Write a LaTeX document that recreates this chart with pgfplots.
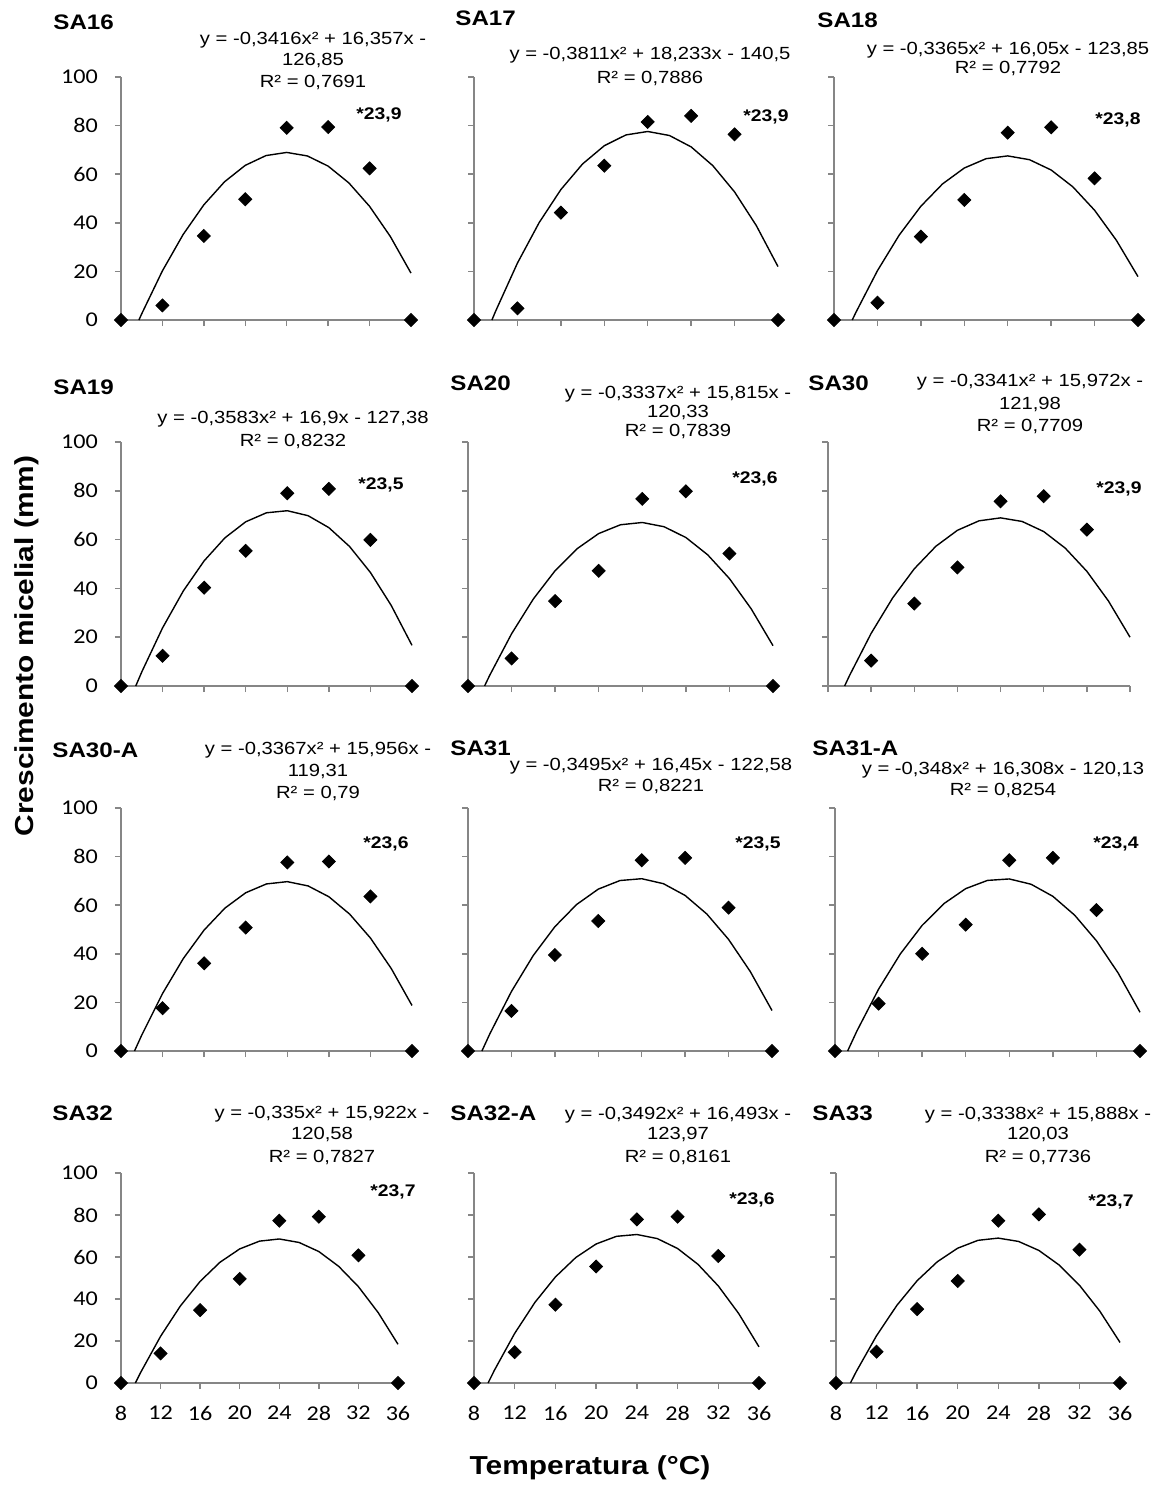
\documentclass[border=0pt]{standalone}
\usepackage{pgfplots}
\pgfplotsset{compat=1.18}
\usepackage{fontspec}
\setmainfont{Liberation Sans}[FakeStretch=1.15]
\newfontfamily\carlito{Carlito}[FakeStretch=1.15]
\definecolor{axgray}{RGB}{134,134,134}
\newcommand{\eqfont}{\fontsize{8.8}{10}\selectfont}
\newcommand{\titlefont}{\fontsize{10.5}{12}\selectfont\bfseries}
\newcommand{\optfont}{\fontsize{8.4}{10}\selectfont\bfseries}
\newcommand{\ttl}[3]{\node[anchor=base west,inner sep=0pt,font=\titlefont] at ({#1*0.5pt},{-(#2+7.5)*0.5pt}) {#3};}
\newcommand{\eq}[3]{\node[anchor=base,inner sep=0pt,font=\eqfont] at ({#1*0.5pt},{-(#2+6.3)*0.5pt}) {#3};}
\newcommand{\opt}[3]{\node[anchor=base west,inner sep=0pt,font=\optfont] at ({#1*0.5pt},{-(#2+6)*0.5pt}) {#3};}
\pgfplotsset{
  panel/.style={
    scale only axis, anchor=south west,
    xmin=8, xmax=36, ymin=0, ymax=100,
    axis x line=bottom, axis y line=left,
    axis line style={-, draw=axgray, line width=0.75pt},
    xtick={8,12,16,20,24,28,32,36}, ytick={0,20,40,60,80,100},
    tick align=outside, major tick length=3pt,
    tick style={draw=axgray, line width=0.75pt},
    xticklabels={{},{},{},{},{},{},{},{}},
    yticklabels={{},{},{},{},{},{}},
    clip=false,
    ticklabel style={font=\carlito\fontsize{10.5}{12}\selectfont},
  },
  ylab/.style={yticklabels={0,20,40,60,80,100}, yticklabel style={xshift=-5pt}},
  xlab/.style={xticklabels={8,12,16,20,24,28,32,36}, xticklabel style={yshift=-5pt}},
  trend/.style={black, line width=0.7pt, no markers, line join=round},
  pts/.style={only marks, mark=square*, mark size=2.3pt, mark options={rotate=45, fill=black, draw=black}},
}
\begin{document}
\begin{tikzpicture}
\path[use as bounding box] (0pt,0pt) rectangle (584pt,-747.5pt);
% ---------------- Row 1
\begin{axis}[panel,ylab,at={(60.5pt,-160pt)},width=145pt,height=121.5pt]
\addplot[trend] coordinates {(9.73,0)(10,2.56)(12,20.24)(14,35.19)(16,47.41)(18,56.90)(20,63.65)(22,67.67)(24,68.96)(26,67.51)(28,63.33)(30,56.42)(32,46.78)(34,34.40)(36,19.29)};
\addplot[pts] coordinates {(8,0)(12,6.0)(16,34.6)(20,49.7)(24,79.1)(28,79.4)(32,62.4)(36,0)};
\end{axis}
\begin{axis}[panel,at={(237pt,-160pt)},width=152pt,height=121.5pt]
\addplot[trend] coordinates {(9.65,0)(10,3.72)(12,23.42)(14,40.07)(16,53.67)(18,64.22)(20,71.72)(22,76.17)(24,77.58)(26,75.93)(28,71.24)(30,63.50)(32,52.71)(34,38.87)(36,21.98)};
\addplot[pts] coordinates {(8,0)(12,4.8)(16,44.2)(20,63.5)(24,81.5)(28,84.0)(32,76.4)(36,0)};
\end{axis}
\begin{axis}[panel,at={(417pt,-160pt)},width=152pt,height=121.5pt]
\addplot[trend] coordinates {(9.68,0)(10,3.00)(12,20.29)(14,34.90)(16,46.81)(18,56.02)(20,62.55)(22,66.38)(24,67.53)(26,65.98)(28,61.73)(30,54.80)(32,45.17)(34,32.86)(36,17.85)};
\addplot[pts] coordinates {(8,0)(12,7.1)(16,34.3)(20,49.4)(24,77.1)(28,79.3)(32,58.3)(36,0)};
\end{axis}
% ---------------- Row 2
\begin{axis}[panel,ylab,at={(60.5pt,-343pt)},width=145.5pt,height=122pt]
\addplot[trend] coordinates {(9.42,0)(10,5.79)(12,23.83)(14,38.99)(16,51.30)(18,60.73)(20,67.30)(22,71.00)(24,71.84)(26,69.81)(28,64.91)(30,57.15)(32,46.52)(34,33.03)(36,16.66)};
\addplot[pts] coordinates {(8,0)(12,12.4)(16,40.3)(20,55.4)(24,79.0)(28,80.8)(32,59.9)(36,0)};
\end{axis}
\begin{axis}[panel,at={(234pt,-343pt)},width=152.5pt,height=122pt]
\addplot[trend] coordinates {(9.52,0)(10,4.45)(12,21.40)(14,35.68)(16,47.28)(18,56.22)(20,62.49)(22,66.09)(24,67.02)(26,65.28)(28,60.87)(30,53.79)(32,44.04)(34,31.62)(36,16.54)};
\addplot[pts] coordinates {(8,0)(12,11.3)(16,34.8)(20,47.2)(24,76.7)(28,79.8)(32,54.3)(36,0)};
\end{axis}
\begin{axis}[panel,at={(414pt,-343pt)},width=151pt,height=122pt]
\addplot[trend] coordinates {(9.54,0)(10,4.33)(12,21.57)(14,36.14)(16,48.04)(18,57.27)(20,63.82)(22,67.70)(24,68.91)(26,67.44)(28,63.30)(30,56.49)(32,47.01)(34,34.85)(36,20.02)};
\addplot[pts] coordinates {(12,10.4)(16,33.8)(20,48.6)(24,75.7)(28,77.8)(32,64.1)};
\end{axis}
% ---------------- Row 3
\begin{axis}[panel,ylab,at={(60.5pt,-525.5pt)},width=145.5pt,height=121.5pt]
\addplot[trend] coordinates {(9.30,0)(10,6.58)(12,23.68)(14,38.08)(16,49.79)(18,58.81)(20,65.13)(22,68.76)(24,69.70)(26,67.94)(28,63.49)(30,56.34)(32,46.50)(34,33.97)(36,18.74)};
\addplot[pts] coordinates {(8,0)(12,17.6)(16,36.1)(20,50.8)(24,77.6)(28,78.0)(32,63.6)(36,0)};
\end{axis}
\begin{axis}[panel,at={(234pt,-525.5pt)},width=152pt,height=121.5pt]
\addplot[trend] coordinates {(9.28,0)(10,6.97)(12,24.49)(14,39.22)(16,51.15)(18,60.28)(20,66.62)(22,70.16)(24,70.91)(26,68.86)(28,64.01)(30,56.37)(32,45.93)(34,32.70)(36,16.67)};
\addplot[pts] coordinates {(8,0)(12,16.5)(16,39.5)(20,53.5)(24,78.5)(28,79.5)(32,59.0)(36,0)};
\end{axis}
\begin{axis}[panel,at={(417.5pt,-525.5pt)},width=152.5pt,height=121.5pt]
\addplot[trend] coordinates {(9.16,0)(10,8.15)(12,25.45)(14,39.97)(16,51.71)(18,60.66)(20,66.83)(22,70.21)(24,70.81)(26,68.63)(28,63.66)(30,55.91)(32,45.37)(34,32.05)(36,15.95)};
\addplot[pts] coordinates {(8,0)(12,19.5)(16,40.0)(20,52.0)(24,78.5)(28,79.5)(32,58.0)(36,0)};
\end{axis}
% ---------------- Row 4
\begin{axis}[panel,ylab,xlab,at={(60.5pt,-691.5pt)},width=138.5pt,height=105pt]
\addplot[trend] coordinates {(9.45,0)(10,5.14)(12,22.24)(14,36.67)(16,48.41)(18,57.48)(20,63.86)(22,67.56)(24,68.59)(26,66.93)(28,62.60)(30,55.58)(32,45.88)(34,33.51)(36,18.45)};
\addplot[pts] coordinates {(8,0)(12,14.1)(16,34.7)(20,49.6)(24,77.3)(28,79.2)(32,60.8)(36,0)};
\end{axis}
\begin{axis}[panel,xlab,at={(237pt,-691.5pt)},width=142.5pt,height=105pt]
\addplot[trend] coordinates {(9.38,0)(10,6.04)(12,23.66)(14,38.49)(16,50.52)(18,59.76)(20,66.21)(22,69.86)(24,70.72)(26,68.79)(28,64.06)(30,56.54)(32,46.23)(34,33.12)(36,17.22)};
\addplot[pts] coordinates {(8,0)(12,14.7)(16,37.3)(20,55.5)(24,77.9)(28,79.2)(32,60.5)(36,0)};
\end{axis}
\begin{axis}[panel,xlab,at={(418pt,-691.5pt)},width=142pt,height=105pt]
\addplot[trend] coordinates {(9.42,0)(10,5.47)(12,22.56)(14,36.98)(16,48.73)(18,57.80)(20,64.21)(22,67.95)(24,69.01)(26,67.41)(28,63.14)(30,56.19)(32,46.58)(34,34.29)(36,19.33)};
\addplot[pts] coordinates {(8,0)(12,14.9)(16,35.2)(20,48.6)(24,77.3)(28,80.3)(32,63.5)(36,0)};
\end{axis}
% ---------------- Titles
\ttl{53}{22}{SA16}
\ttl{455}{18}{SA17}
\ttl{817}{20}{SA18}
\ttl{53}{387}{SA19}
\ttl{450}{383}{SA20}
\ttl{808}{383}{SA30}
\ttl{52}{750}{SA30-A}
\ttl{450}{748}{SA31}
\ttl{812}{748}{SA31-A}
\ttl{52}{1113}{SA32}
\ttl{450}{1113}{SA32-A}
\ttl{812}{1113}{SA33}
% ---------------- Equations
\eq{313}{38}{y = -0,3416x² + 16,357x -}
\eq{313}{59}{126,85}
\eq{313}{81}{R² = 0,7691}
\eq{650}{53}{y = -0,3811x² + 18,233x - 140,5}
\eq{650}{77}{R² = 0,7886}
\eq{1008}{48}{y = -0,3365x² + 16,05x - 123,85}
\eq{1008}{67}{R² = 0,7792}
\eq{293}{417}{y = -0,3583x² + 16,9x - 127,38}
\eq{293}{440}{R² = 0,8232}
\eq{678}{392}{y = -0,3337x² + 15,815x -}
\eq{678}{411}{120,33}
\eq{678}{430}{R² = 0,7839}
\eq{1030}{380}{y = -0,3341x² + 15,972x -}
\eq{1030}{403}{121,98}
\eq{1030}{425}{R² = 0,7709}
\eq{318}{748}{y = -0,3367x² + 15,956x -}
\eq{318}{770}{119,31}
\eq{318}{792}{R² = 0,79}
\eq{651}{764}{y = -0,3495x² + 16,45x - 122,58}
\eq{651}{785}{R² = 0,8221}
\eq{1003}{768}{y = -0,348x² + 16,308x - 120,13}
\eq{1003}{789}{R² = 0,8254}
\eq{322}{1112}{y = -0,335x² + 15,922x -}
\eq{322}{1133}{120,58}
\eq{322}{1156}{R² = 0,7827}
\eq{678}{1113}{y = -0,3492x² + 16,493x -}
\eq{678}{1133}{123,97}
\eq{678}{1156}{R² = 0,8161}
\eq{1038}{1113}{y = -0,3338x² + 15,888x -}
\eq{1038}{1133}{120,03}
\eq{1038}{1156}{R² = 0,7736}
% ---------------- Optimum temperatures
\opt{356}{113}{*23,9}
\opt{743}{115}{*23,9}
\opt{1095}{118}{*23,8}
\opt{358}{483}{*23,5}
\opt{732}{477}{*23,6}
\opt{1096}{487}{*23,9}
\opt{363}{842}{*23,6}
\opt{735}{842}{*23,5}
\opt{1093}{842}{*23,4}
\opt{370}{1190}{*23,7}
\opt{729}{1198}{*23,6}
\opt{1088}{1200}{*23,7}
% ---------------- Axis titles
\node[rotate=90,inner sep=0pt,font=\fontsize{13}{15}\selectfont\bfseries] at (13.5pt,-323pt) {Crescimento micelial (mm)};
\node[inner sep=0pt,font=\fontsize{13}{15}\selectfont\bfseries] at (295pt,-734pt) {Temperatura (°C)};
\end{tikzpicture}
\end{document}
